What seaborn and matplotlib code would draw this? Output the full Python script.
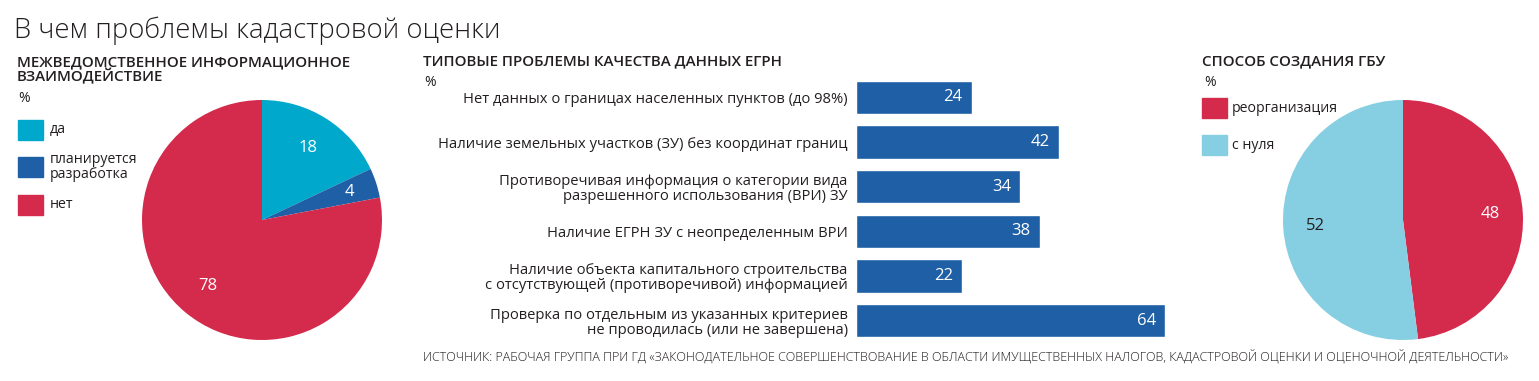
import numpy as np
import pandas as pd
import matplotlib
matplotlib.use('Agg')
import matplotlib.pyplot as plt
from matplotlib.patches import Rectangle
import seaborn as sns

# data
left_labels = ['да', 'планируется\nразработка', 'нет']
left_values = [18, 4, 78]
right_labels = ['реорганизация', 'с нуля']
right_values = [48, 52]
bar_labels = [
    'Нет данных о границах населенных пунктов (до 98%)',
    'Наличие земельных участков (ЗУ) без координат границ',
    'Противоречивая информация о категории вида\nразрешенного использования (ВРИ) ЗУ',
    'Наличие ЕГРН ЗУ с неопределенным ВРИ',
    'Наличие объекта капитального строительства\nс отсутствующей (противоречивой) информацией',
    'Проверка по отдельным из указанных критериев\nне проводилась (или не завершена)',
]
bar_values = [24, 42, 34, 38, 22, 64]

RED = '#d42a4c'
CYAN = '#00a9cb'
BLUE = '#1e5fa6'
LIGHT = '#86cfe2'
TXT = '#231f20'

sns.set_theme(style='white')
plt.rcParams['font.family'] = ['Open Sans', 'DejaVu Sans']

W, H = 1539, 381
fig = plt.figure(figsize=(W / 100, H / 100), dpi=100)
fig.patch.set_facecolor('white')


def fx(x):
    return x / W


def fy(y):
    return 1 - y / H


def box(x, y, w, h):
    return [fx(x), fy(y + h), w / W, h / H]


def swatch(x, y, color):
    fig.patches.append(Rectangle((fx(x), fy(y + 20)), 25 / W, 20 / H,
                                 transform=fig.transFigure, color=color))


# title
fig.text(fx(14), fy(31), 'В чем проблемы кадастровой оценки', fontsize=19.8,
         fontweight='light', color=TXT, va='center')

# --- left pie
fig.text(fx(17), fy(70), 'МЕЖВЕДОМСТВЕННОЕ ИНФОРМАЦИОННОЕ\nВЗАИМОДЕЙСТВИЕ', fontsize=10.9,
         fontweight='semibold', color=TXT, va='center', linespacing=0.92)
fig.text(fx(18), fy(98), '%', fontsize=10, color=TXT, va='center')
leg_y = [120, 157, 195]
for (lab, col, y) in zip(left_labels, [CYAN, BLUE, RED], leg_y):
    swatch(18, y, col)
    fig.text(fx(50), fy(y + 10), lab, fontsize=10.2, color=TXT, va='center', linespacing=0.95)

ax1 = fig.add_axes(box(142, 100, 240, 240))
wedges, texts, autotexts = ax1.pie(left_values, colors=[CYAN, BLUE, RED], startangle=90,
                                   counterclock=False, autopct='%.0f', pctdistance=0.71,
                                   wedgeprops=dict(linewidth=0),
                                   textprops=dict(color='white', fontsize=12))
autotexts[1].set_position(np.array(autotexts[1].get_position()) * 1.08)
ax1.set_xlim(-1, 1)
ax1.set_ylim(-1, 1)
ax1.set_aspect('equal')

# --- bars
fig.text(fx(423), fy(61), 'ТИПОВЫЕ ПРОБЛЕМЫ КАЧЕСТВА ДАННЫХ ЕГРН', fontsize=10.9,
         fontweight='semibold', color=TXT, va='center')
fig.text(fx(424), fy(82), '%', fontsize=10, color=TXT, va='center')

ax2 = fig.add_axes(box(856, 75, 4.83 * 70, 268))
df = pd.DataFrame({'label': bar_labels, 'value': bar_values})
sns.barplot(data=df, x='value', y='label', orient='h', color=BLUE, saturation=1,
            width=0.74, ax=ax2)
ax2.set_xlim(0, 70)
ax2.set_ylim(5.5, -0.5)
for i, v in enumerate(bar_values):
    ax2.text(v - 1.9, i, str(v), ha='right', va='center', color='white', fontsize=12)
ax2.set_xlabel('')
ax2.set_ylabel('')
ax2.set_xticks([])
ax2.tick_params(axis='y', length=0, pad=6, labelsize=10.6, labelcolor=TXT)
for t in ax2.get_yticklabels():
    t.set_linespacing(1.0)
sns.despine(ax=ax2, left=True, bottom=True)

# --- right pie
fig.text(fx(1202), fy(61), 'СПОСОБ СОЗДАНИЯ ГБУ', fontsize=10.9,
         fontweight='semibold', color=TXT, va='center')
fig.text(fx(1204), fy(82), '%', fontsize=10, color=TXT, va='center')
for (lab, col, y) in zip(right_labels, [RED, LIGHT], [98, 135]):
    swatch(1202, y, col)
    fig.text(fx(1232), fy(y + 10), lab, fontsize=10.2, color=TXT, va='center')

ax3 = fig.add_axes(box(1283, 100, 240, 240))
w3, t3, a3 = ax3.pie(right_values, colors=[RED, LIGHT], startangle=90,
                     counterclock=False, autopct='%.0f', pctdistance=0.73,
                     wedgeprops=dict(linewidth=0),
                     textprops=dict(fontsize=12))
a3[0].set_color('white')
a3[1].set_color(TXT)
ax3.set_xlim(-1, 1)
ax3.set_ylim(-1, 1)
ax3.set_aspect('equal')

# source
fig.text(fx(423), fy(356),
         'ИСТОЧНИК: РАБОЧАЯ ГРУППА ПРИ ГД «ЗАКОНОДАТЕЛЬНОЕ СОВЕРШЕНСТВОВАНИЕ В ОБЛАСТИ '
         'ИМУЩЕСТВЕННЫХ НАЛОГОВ, КАДАСТРОВОЙ ОЦЕНКИ И ОЦЕНОЧНОЙ ДЕЯТЕЛЬНОСТИ»',
         fontsize=9, fontweight='light', color=TXT, va='center')

fig.savefig('out.png', dpi=100)
